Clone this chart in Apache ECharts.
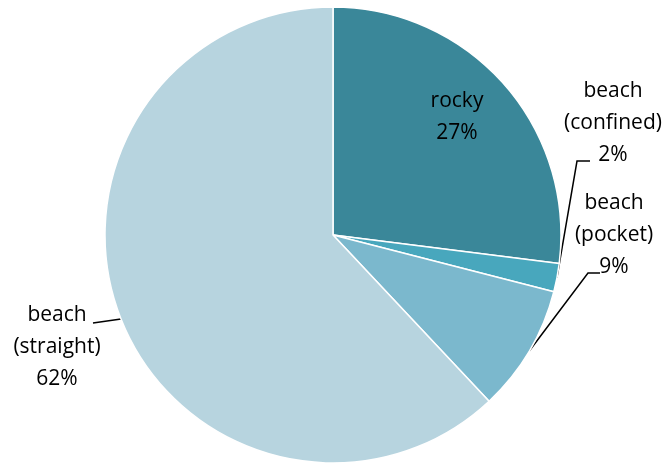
<!DOCTYPE html>
<html><head><meta charset="utf-8">
<script src="https://cdn.jsdelivr.net/npm/echarts@6/dist/echarts.min.js"></script>
<style>html,body{margin:0;padding:0;background:#fff}#c{width:668px;height:463px}</style>
</head><body><div id="c"></div>
<script>
const categories = ['rocky', 'beach\n(confined)', 'beach\n(pocket)', 'beach\n(straight)'];
const values = [27, 2, 9, 62];
const colors = ['#3A8799', '#48A7BD', '#7BB8CD', '#B7D4DF'];

const CX = 333, CY = 235, R = 228;
const labelPos = [
  {x: 457, y: 117},
  {x: 613, y: 123},
  {x: 614, y: 235},
  {x: 57, y: 347}
];
// bend/end points of leader lines, relative to label anchor
const lineRel = [
  null,
  [[-36, 38], [-23, 38]],
  [[-26, 38], [-14, 38]],
  [[36, -24], [36, -24]]
];
const total = values.reduce((a, b) => a + b, 0);
function edgePoint(i) {
  let before = 0;
  for (let k = 0; k < i; k++) before += values[k];
  const frac = (before + values[i] / 2) / total;
  const ang = frac * 2 * Math.PI; // clockwise from top
  return [CX + R * Math.sin(ang), CY - R * Math.cos(ang)];
}

const chart = echarts.init(document.getElementById('c'));
chart.setOption({
  animation: false,
  series: [{
    type: 'pie',
    center: [CX, CY],
    radius: R,
    startAngle: 90,
    clockwise: true,
    data: categories.map((n, i) => ({
      name: n, value: values[i],
      itemStyle: {color: colors[i]},
      labelLine: {show: i !== 0}
    })),
    itemStyle: {borderColor: '#fff', borderWidth: 1.5},
    label: {
      formatter: p => p.name + '\n' + p.value + '%',
      fontFamily: 'Open Sans', fontSize: 21, lineHeight: 32,
      color: '#000', align: 'center', overflow: 'none'
    },
    labelLine: {lineStyle: {color: '#000', width: 1.5}, length: 10, length2: 10},
    labelLayout: p => {
      const i = p.dataIndex, lp = labelPos[i];
      const o = {x: lp.x, y: lp.y, align: 'center', verticalAlign: 'middle'};
      if (lineRel[i]) {
        const s = (p.labelLinePoints && p.labelLinePoints[0]) || edgePoint(i);
        o.labelLinePoints = [s].concat(lineRel[i].map(d => [lp.x + d[0], lp.y + d[1]]));
      }
      return o;
    }
  }]
});
</script></body></html>
